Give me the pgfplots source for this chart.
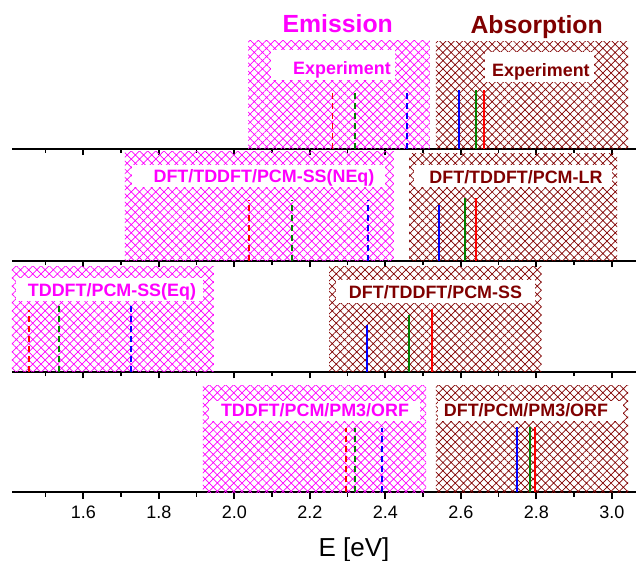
\documentclass[border=0pt]{standalone}
\usepackage{fontspec}
\setmainfont{Liberation Sans}
\usepackage{pgfplots}
\pgfplotsset{compat=1.18}
\usetikzlibrary{patterns.meta}
\definecolor{mag}{RGB}{255,0,255}
\definecolor{dred}{RGB}{128,0,0}
\definecolor{dgreen}{RGB}{0,128,0}
\newcommand{\lbl}{\fontsize{8.95bp}{10bp}\selectfont\bfseries}
\newcommand{\ttl}{\fontsize{12.4bp}{14bp}\selectfont\bfseries}
\pgfplotsset{
  panel/.style={
    x=188.75bp, y=0.5bp,
    xmin=1.412, xmax=3.063, ymin=0,
    scale only axis,
    axis x line*=bottom, axis y line=none,
    x axis line style={-, line width=1bp},
    xtick={1.6,1.8,2.0,2.2,2.4,2.6,2.8,3.0},
    minor xtick={1.5,1.7,1.9,2.1,2.3,2.5,2.7,2.9},
    xticklabels={},
    tick align=outside,
    major tick length=3.3bp, minor tick length=2.2bp,
    every tick/.style={black, line width=0.8bp},
    ytick=\empty,
    clip=false,
    anchor=south west,
  },
  emrect/.style={draw=none, forget plot, pattern={Hatch[angle=45,distance=2.9bp,line width=0.35bp]}, pattern color=mag},
  abrect/.style={draw=none, forget plot, pattern={Hatch[angle=45,distance=2.9bp,line width=0.35bp]}, pattern color=dred},
  emline/.style={mark=none, line width=0.9bp, dash pattern=on 3bp off 2bp},
  abline/.style={mark=none, line width=1bp},
}
\begin{document}
\begin{tikzpicture}
\useasboundingbox (0,0) rectangle (318bp,-280.5bp);

% Panel 1: Experiment
\begin{axis}[panel, at={(6.15bp,-74.25bp)}, ymax=112]
\addplot[emrect] coordinates {(2.037,0) (2.037,108.5) (2.518,108.5) (2.518,0)} -- cycle;
\addplot[abrect] coordinates {(2.534,0) (2.534,106.8) (3.043,106.8) (3.043,0)} -- cycle;
\addplot[emline, red] coordinates {(2.260,0) (2.260,58.5)};
\addplot[emline, dgreen] coordinates {(2.320,0) (2.320,58.5)};
\addplot[emline, blue] coordinates {(2.458,0) (2.458,58.5)};
\addplot[abline, blue] coordinates {(2.596,0) (2.596,58.5)};
\addplot[abline, dgreen] coordinates {(2.640,0) (2.640,58.5)};
\addplot[abline, red] coordinates {(2.662,0) (2.662,58.5)};
\node[fill=white, inner sep=0pt, minimum width=62.25bp, minimum height=15bp] at (axis cs:2.2615,83.5) {};
\node[fill=white, inner sep=0pt, minimum width=54.5bp, minimum height=15bp] at (axis cs:2.8085,81.8) {};
\node[anchor=base, text=mag, font=\lbl, inner sep=0pt] at (axis cs:2.2853,74) {Experiment};
\node[anchor=base, text=dred, font=\lbl, inner sep=0pt] at (axis cs:2.8124,72) {Experiment};
\node[anchor=base, text=mag, font=\ttl, inner sep=0pt] at (axis cs:2.274,116) {Emission};
\node[anchor=base, text=dred, font=\ttl, inner sep=0pt] at (axis cs:2.801,115) {Absorption};
\end{axis}

% Panel 2
\begin{axis}[panel, at={(6.15bp,-130.25bp)}, ymax=112]
\addplot[emrect] coordinates {(1.710,0) (1.710,108.8) (2.423,108.8) (2.423,0)} -- cycle;
\addplot[abrect] coordinates {(2.463,0) (2.463,107.2) (3.014,107.2) (3.014,0)} -- cycle;
\addplot[emline, red] coordinates {(2.038,0) (2.038,60.5)};
\addplot[emline, dgreen] coordinates {(2.152,0) (2.152,60.5)};
\addplot[emline, blue] coordinates {(2.355,0) (2.355,60.5)};
\addplot[abline, blue] coordinates {(2.543,0) (2.543,55.5)};
\addplot[abline, dgreen] coordinates {(2.610,0) (2.610,62.2)};
\addplot[abline, red] coordinates {(2.640,0) (2.640,62.2)};
\node[fill=white, inner sep=0pt, minimum width=126.5bp, minimum height=11bp] at (axis cs:2.0641,84.6) {};
\node[fill=white, inner sep=0pt, minimum width=99bp, minimum height=11bp] at (axis cs:2.7383,84.6) {};
\node[anchor=base, text=mag, font=\lbl, inner sep=0pt] at (axis cs:2.0787,77.6) {DFT/TDDFT/PCM-SS(NEq)};
\node[anchor=base, text=dred, font=\lbl, inner sep=0pt] at (axis cs:2.7462,77.4) {DFT/TDDFT/PCM-LR};
\end{axis}

% Panel 3
\begin{axis}[panel, at={(6.15bp,-185.85bp)}, ymax=111]
\addplot[emrect] coordinates {(1.411,0) (1.411,105) (1.946,105) (1.946,0)} -- cycle;
\addplot[abrect] coordinates {(2.251,0) (2.251,105) (2.814,105) (2.814,0)} -- cycle;
\addplot[emline, red] coordinates {(1.456,0) (1.456,61.7)};
\addplot[emline, dgreen] coordinates {(1.536,0) (1.536,66)};
\addplot[emline, blue] coordinates {(1.726,0) (1.726,66)};
\addplot[abline, blue] coordinates {(2.352,0) (2.352,46.7)};
\addplot[abline, dgreen] coordinates {(2.464,0) (2.464,56.7)};
\addplot[abline, red] coordinates {(2.524,0) (2.524,62.7)};
\node[fill=white, inner sep=0pt, minimum width=93.5bp, minimum height=11.5bp] at (axis cs:1.6694,82.3) {};
\node[fill=white, inner sep=0pt, minimum width=99.5bp, minimum height=11.5bp] at (axis cs:2.533,80.2) {};
\node[anchor=base, text=mag, font=\lbl, inner sep=0pt] at (axis cs:1.676,75.3) {TDDFT/PCM-SS(Eq)};
\node[anchor=base, text=dred, font=\lbl, inner sep=0pt] at (axis cs:2.533,73.3) {DFT/TDDFT/PCM-SS};
\end{axis}

% Panel 4
\begin{axis}[panel, at={(6.15bp,-246.15bp)}, ymax=121,
  xticklabels={1.6,1.8,2.0,2.2,2.4,2.6,2.8,3.0},
  xticklabel style={font=\fontsize{9bp}{10bp}\selectfont},
  xlabel={E [eV]},
  xlabel style={font=\fontsize{13bp}{15bp}\selectfont, at={(axis cs:2.317,-64.4)}, anchor=base, inner sep=0pt},
]
\addplot[emrect] coordinates {(1.917,0) (1.917,107.3) (2.508,107.3) (2.508,0)} -- cycle;
\addplot[abrect] coordinates {(2.534,0) (2.534,107.3) (3.043,107.3) (3.043,0)} -- cycle;
\addplot[emline, red] coordinates {(2.297,0) (2.297,64)};
\addplot[emline, dgreen] coordinates {(2.320,0) (2.320,64)};
\addplot[emline, blue] coordinates {(2.391,0) (2.391,64)};
\addplot[abline, blue] coordinates {(2.750,0) (2.750,65.6)};
\addplot[abline, dgreen] coordinates {(2.783,0) (2.783,65.6)};
\addplot[abline, red] coordinates {(2.797,0) (2.797,65.6)};
\node[fill=white, inner sep=0pt, minimum width=105.5bp, minimum height=10bp] at (axis cs:2.2125,81.5) {};
\node[fill=white, inner sep=0pt, minimum width=92.5bp, minimum height=10bp] at (axis cs:2.7846,81.5) {};
\node[anchor=base, text=mag, font=\lbl, inner sep=0pt] at (axis cs:2.2138,75.9) {TDDFT/PCM/PM3/ORF};
\node[anchor=base, text=dred, font=\lbl, inner sep=0pt] at (axis cs:2.7727,75.9) {DFT/PCM/PM3/ORF};
\end{axis}
\end{tikzpicture}
\end{document}
